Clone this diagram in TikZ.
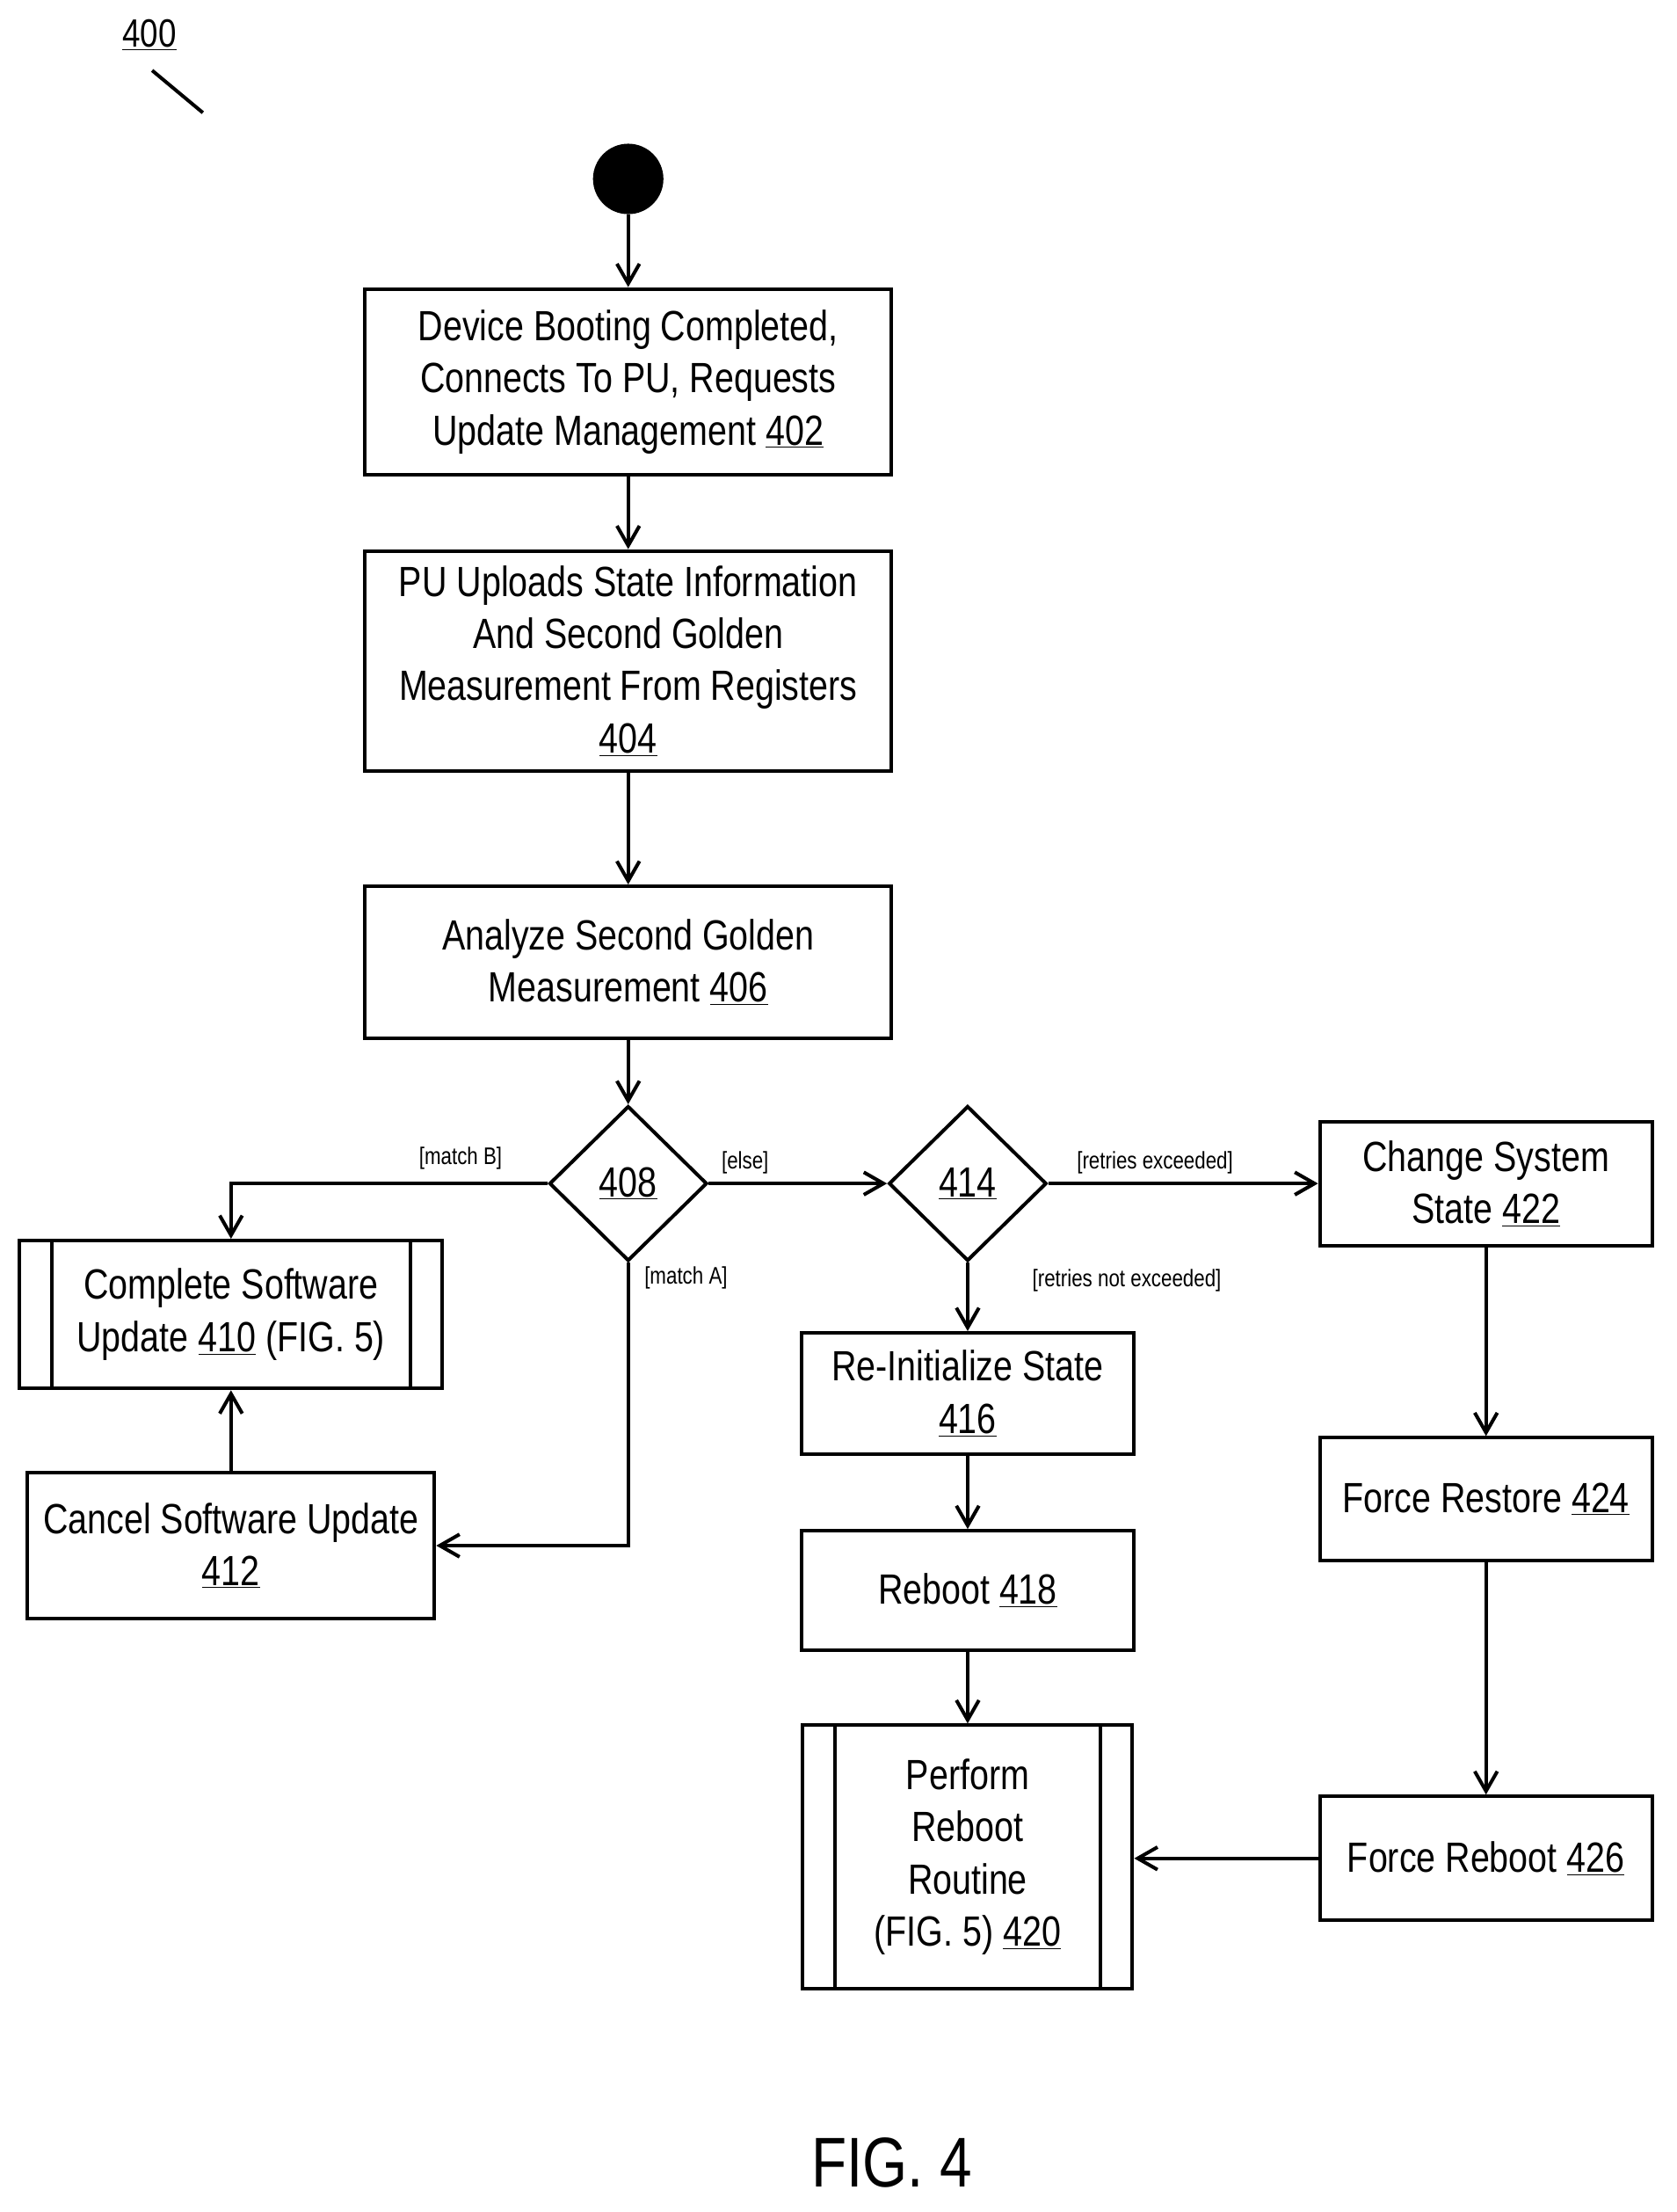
\documentclass[tikz,border=0pt]{standalone}
\usepackage{fontspec}
\setmainfont{Liberation Sans}[FakeStretch=0.82]
\usetikzlibrary{arrows.meta,shapes.geometric}
\newcommand{\nm}[1]{\underline{#1}}
\begin{document}
\begin{tikzpicture}[x=1pt,y=-1pt,
  box/.style={draw,line width=2.5pt,align=center,font=\fontsize{30}{37}\selectfont,inner sep=0},
  dia/.style={draw,line width=2.5pt,diamond,minimum width=112pt,minimum height=110pt,inner sep=0,font=\fontsize{30}{37}\selectfont},
  lab/.style={font=\fontsize{17}{20}\selectfont},
  ar/.style={line width=2.5pt,-{Straight Barb[length=14pt,width=16pt,line width=2.5pt]}}]
\useasboundingbox (0,0) rectangle (1190,1570);
\node[font=\fontsize{28}{30}\selectfont] (l400) at (106,25) {\nm{400}};
\coordinate (p1) at (108,50); \coordinate (p2) at (144,80);
\draw[line width=2.5pt] (p1)--(p2);
\node[circle,fill,minimum size=50pt,inner sep=0] (s) at (446,127) {};
\node[box,minimum width=374pt,minimum height=132pt] (n402) at (446,271) {Device Booting Completed,\\Connects To PU, Requests\\Update Management \nm{402}};
\node[box,minimum width=374pt,minimum height=156pt] (n404) at (446,469) {PU Uploads State Information\\And Second Golden\\Measurement From Registers\\\nm{404}};
\node[box,minimum width=374pt,minimum height=108pt] (n406) at (446,683) {Analyze Second Golden\\Measurement \nm{406}};
\node[dia] (n408) at (446,840) {\nm{408}};
\node[dia] (n414) at (687,840) {\nm{414}};
\node[box,minimum width=236pt,minimum height=88pt] (n422) at (1055,840) {Change System\\State \nm{422}};
\node[box,minimum width=300pt,minimum height=105pt] (n410) at (164,933) {Complete Software\\Update \nm{410} (FIG. 5)};
\draw[line width=2.5pt] ([xshift=24pt]n410.north west)--([xshift=24pt]n410.south west);
\draw[line width=2.5pt] ([xshift=-24pt]n410.north east)--([xshift=-24pt]n410.south east);
\node[box,minimum width=289pt,minimum height=104pt] (n412) at (164,1097) {Cancel Software Update\\\nm{412}};
\node[box,minimum width=236pt,minimum height=86pt] (n416) at (687,989) {Re-Initialize State\\\nm{416}};
\node[box,minimum width=236pt,minimum height=85pt] (n418) at (687,1129) {Reboot \nm{418}};
\node[box,minimum width=234pt,minimum height=187pt] (n420) at (687,1318) {Perform\\Reboot\\Routine\\(FIG. 5) \nm{420}};
\draw[line width=2.5pt] ([xshift=24pt]n420.north west)--([xshift=24pt]n420.south west);
\draw[line width=2.5pt] ([xshift=-24pt]n420.north east)--([xshift=-24pt]n420.south east);
\node[box,minimum width=236pt,minimum height=87pt] (n424) at (1055,1064) {Force Restore \nm{424}};
\node[box,minimum width=236pt,minimum height=88pt] (n426) at (1055,1319) {Force Reboot \nm{426}};
\node[font=\fontsize{50}{55}\selectfont] (fig) at (633,1535) {FIG. 4};
\draw[ar] (s)--(n402);
\draw[ar] (n402)--(n404);
\draw[ar] (n404)--(n406);
\draw[ar] (n406)--(n408);
\draw[ar] (n408.west) -| (n410.north);
\draw[ar] (n408.east)--(n414.west);
\draw[ar] (n408.south) |- (n412.east);
\draw[ar] (n412)--(n410);
\draw[ar] (n414.east)--(n422.west);
\draw[ar] (n414.south)--(n416.north);
\draw[ar] (n416)--(n418);
\draw[ar] (n418)--(n420);
\draw[ar] (n422)--(n424);
\draw[ar] (n424)--(n426);
\draw[ar] (n426.west)--(n426.west -| n420.east);
\node[lab] (la) at (327,822) {[match B]};
\node[lab] (lb) at (529,825) {[else]};
\node[lab] (lc) at (487,907) {[match A]};
\node[lab] (ld) at (820,825) {[retries exceeded]};
\node[lab] (le) at (800,909) {[retries not exceeded]};
\end{tikzpicture}
\end{document}
